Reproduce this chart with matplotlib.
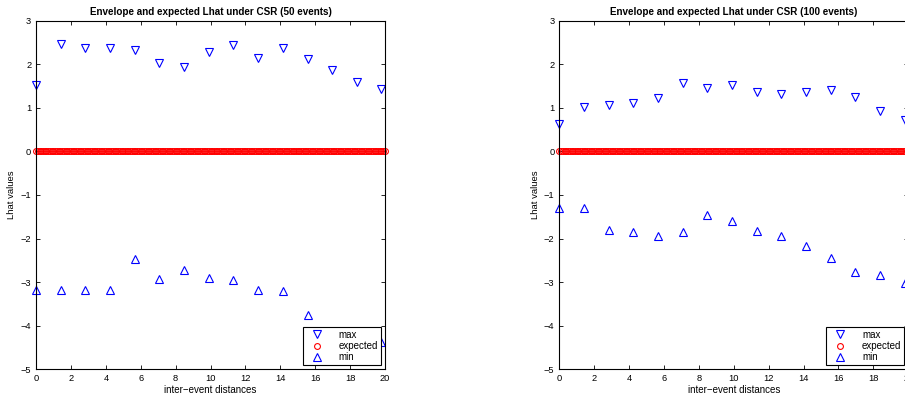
import numpy as np
import matplotlib
matplotlib.use("Agg")
import matplotlib.pyplot as plt

plt.rcParams['font.family'] = ['Liberation Sans', 'DejaVu Sans']

# inter-event distances for the envelope
r = [0.0, 1.41, 2.83, 4.24, 5.66, 7.07, 8.49, 9.90, 11.31, 12.73, 14.14, 15.56, 16.97, 18.38, 19.80]

# 50 events
max50 = [1.53, 2.47, 2.37, 2.37, 2.33, 2.02, 1.93, 2.28, 2.43, 2.15, 2.37, 2.11, 1.87, 1.59, 1.44]
min50 = [-3.19, -3.19, -3.19, -3.19, -2.47, -2.92, -2.73, -2.91, -2.94, -3.19, -3.21, -3.76, -4.45, -4.45, -4.37]

# 100 events
max100 = [0.63, 1.01, 1.06, 1.12, 1.22, 1.56, 1.46, 1.53, 1.37, 1.31, 1.37, 1.40, 1.24, 0.93, 0.71]
min100 = [-1.29, -1.29, -1.80, -1.86, -1.95, -1.86, -1.47, -1.59, -1.82, -1.94, -2.18, -2.44, -2.77, -2.84, -3.03]

# expected Lhat under CSR is zero everywhere
r_exp = np.arange(0, 20.01, 0.1)
expected = np.zeros(len(r_exp))

fig = plt.figure(figsize=(9.05, 3.98), dpi=100)
ax1 = fig.add_axes([0.0398, 0.0721, 0.3856, 0.876])
ax2 = fig.add_axes([0.618, 0.0721, 0.3856, 0.876])


def draw(ax, mx, mn, n):
    ax.plot(r, mx, linestyle='none', marker='v', ms=6, mfc='none', mec='blue', mew=0.8, label='max', clip_on=False)
    ax.plot(r_exp, expected, linestyle='none', marker='o', ms=4.2, mfc='none', mec='red', mew=0.8, label='expected', clip_on=False)
    ax.plot(r, mn, linestyle='none', marker='^', ms=6, mfc='none', mec='blue', mew=0.8, label='min', clip_on=False)
    ax.set_xlim(0, 20)
    ax.set_ylim(-5, 3)
    ax.set_xticks(range(0, 21, 2))
    ax.set_yticks(range(-5, 4))
    ax.set_yticklabels([str(v).replace('-', '\u2212') for v in range(-5, 4)])
    ax.tick_params(direction='in', top=True, right=True, labelsize=6.7, length=3, width=0.6, pad=3.5)
    for s in ax.spines.values():
        s.set_linewidth(0.8)
    ax.set_title('Envelope and expected Lhat under CSR (%d events)' % n, fontsize=7.1, fontweight='bold', pad=4)
    ax.set_xlabel('inter\u2212event distances', fontsize=7, labelpad=1)
    ax.set_ylabel('Lhat values', fontsize=6.8, labelpad=3)
    leg = ax.legend(loc='lower right', fontsize=7, frameon=True, fancybox=False, edgecolor='black',
                    framealpha=1, borderaxespad=0.4, handletextpad=1.1, labelspacing=0.15,
                    borderpad=0.3, handlelength=2.3)
    leg.get_frame().set_linewidth(0.8)
    leg.set_zorder(10)


draw(ax1, max50, min50, 50)
draw(ax2, max100, min100, 100)

fig.savefig('out.png', dpi=100)
